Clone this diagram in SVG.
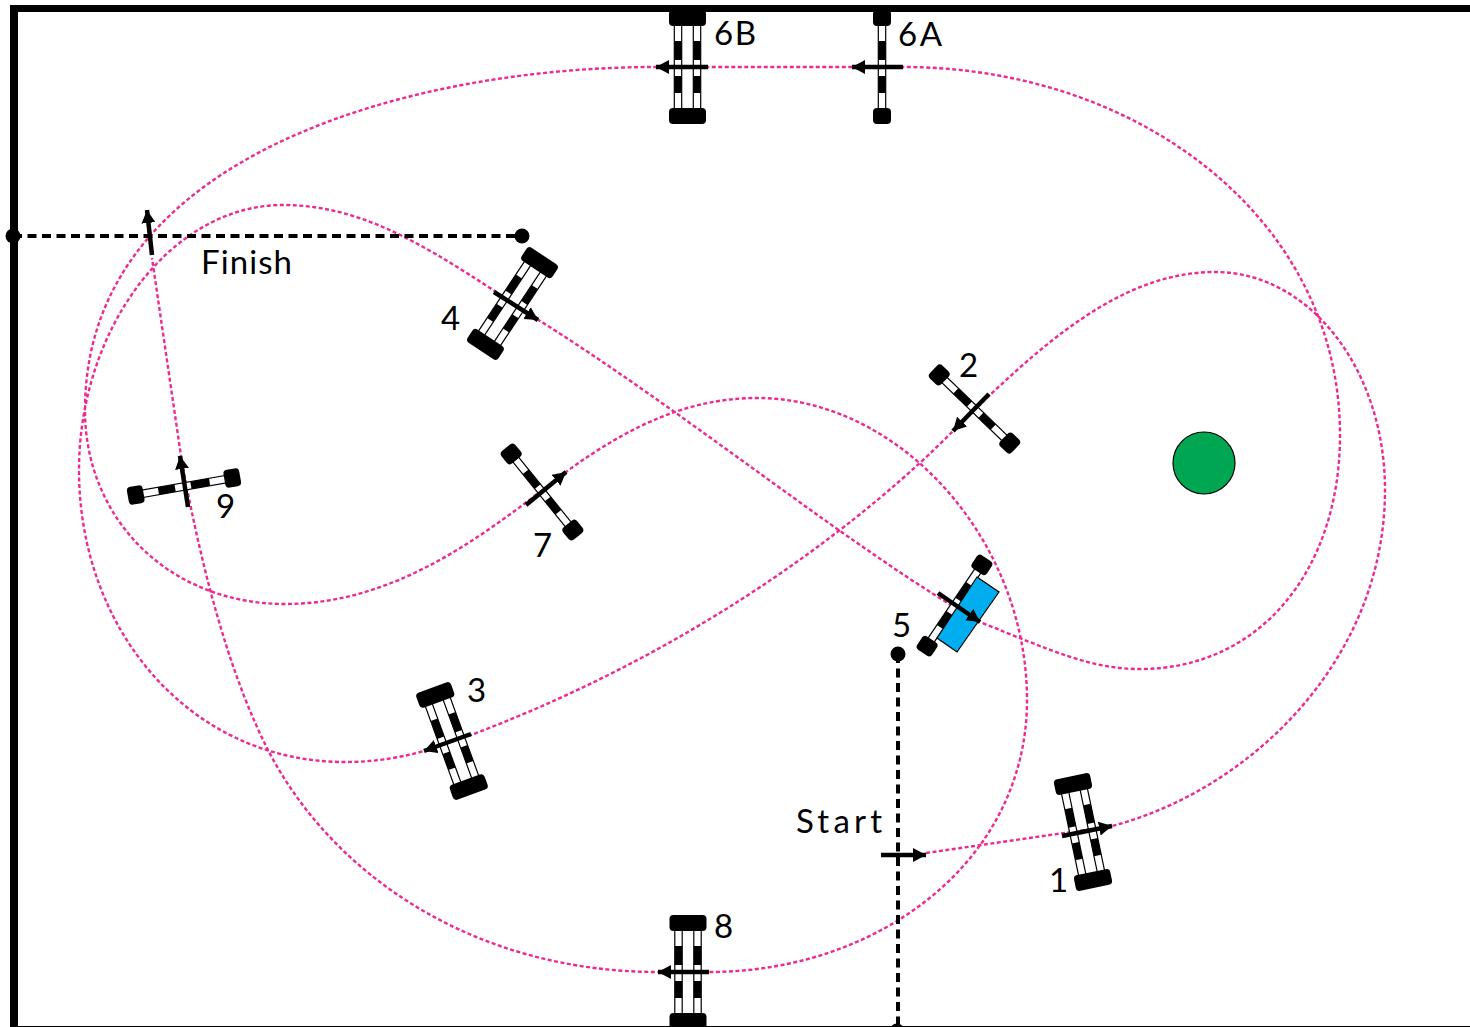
<svg xmlns="http://www.w3.org/2000/svg" width="1470" height="1027" viewBox="0 0 1470 1027">
<style>
.pink{fill:none;stroke:#ec2a90;stroke-width:2.4;stroke-dasharray:4 2.5}
.bdash{fill:none;stroke:#000;stroke-width:4;stroke-dasharray:9 5.5}
.arrow{stroke:#000;stroke-width:4.5;fill:none;marker-end:url(#ah)}
.wall{fill:#000}
text{font-family:"Lato","Open Sans",sans-serif;font-size:33px;fill:#000}
</style>
<defs>
<marker id="ah" markerUnits="userSpaceOnUse" markerWidth="16" markerHeight="16" refX="13" refY="7" orient="auto"><path d="M0 0L13 7L0 14Z" fill="#000"/></marker>
<g id="bar"><rect x="-3.7" y="-46" width="7.4" height="92" fill="#fff" stroke="#000" stroke-width="1.2"/><rect x="-3.7" y="-26" width="7.4" height="19" fill="#000"/><rect x="-3.7" y="9" width="7.4" height="17" fill="#000"/></g>
<g id="single"><use href="#bar"/><rect x="-9" y="-57" width="18" height="16" rx="4" fill="#000"/><rect x="-9" y="41" width="18" height="16" rx="4" fill="#000"/></g>
<g id="double"><use href="#bar" x="-9.5"/><use href="#bar" x="9.5"/><rect x="-18.5" y="-57" width="37" height="16" rx="4" fill="#000"/><rect x="-18.5" y="41" width="37" height="16" rx="4" fill="#000"/></g>
</defs>
<rect width="1470" height="1027" fill="#fff"/>
<g id="walls">
<rect class="wall" x="10" y="5" width="1460" height="7"/>
<rect class="wall" x="10" y="5" width="8" height="1022"/>
<rect class="wall" x="18" y="1026" width="1452" height="1"/>
</g>
<g id="connectors">
<path class="pink" d="M926 853L1112 826C1250 790 1385 660 1385 490C1385 370 1310 272 1215 272C1120 272 1040 345 953 431C875 510 710 645 471 735L424 751C395 759 370 762 345 762C190 762 79 630 79 470C79 330 170 205 283 205C370 205 440 255 537 319C690 415 860 555 980 622C1050 650 1090 669 1140 669C1260 669 1340 570 1340 435C1340 220 1140 67 903 67L656 67C420 67 85 150 85 410C85 520 170 604 285 604C400 604 490 530 566 472C630 425 690 398 757 398C900 398 1027 540 1027 700C1027 860 880 972 709 972L658 972C480 972 335 880 268 750C235 685 205 590 181 456L152 258"/>
<path class="bdash" d="M13 236H522"/>
<path class="bdash" d="M898 654V1027"/>
<circle cx="13" cy="236" r="7.5"/>
<circle cx="522" cy="236" r="7.5"/>
<circle cx="898" cy="654" r="7.5"/>
<circle cx="897" cy="1031" r="7.5"/>
</g>
<g id="obstacle"><circle cx="1204" cy="463" r="31" fill="#00a651" stroke="#000" stroke-width="1.2"/></g>
<g id="gate-6B"><use href="#double" transform="translate(687.5 67)"/><path class="arrow" d="M708 67H656"/><text x="714" y="45" textLength="42">6B</text></g>
<g id="gate-6A"><use href="#single" transform="translate(882 67)"/><path class="arrow" d="M903 67H852"/><text x="898" y="46" textLength="44">6A</text></g>
<g id="gate-4"><use href="#double" transform="translate(512.5 303.5) rotate(33.5)"/><path class="arrow" d="M494 292L538 320"/><text x="441" y="330">4</text></g>
<g id="gate-2"><use href="#single" transform="translate(974.5 409) rotate(-46)"/><path class="arrow" d="M989 394L953 431"/><text x="959" y="377">2</text></g>
<g id="gate-7"><use href="#single" transform="translate(542 492) rotate(-39)"/><path class="arrow" d="M526 505L566 472"/><text x="533" y="557">7</text></g>
<g id="gate-9"><use href="#single" transform="translate(184 486.5) rotate(80)"/><path class="arrow" d="M188 507L180 456"/><text x="216" y="518">9</text></g>
<g id="gate-5"><use href="#single" transform="translate(954.5 605.5) rotate(34)"/><polygon points="977,577 999,592 957,652 937,638" fill="#00aeef" stroke="#000" stroke-width="1.2"/><path class="arrow" d="M938 593L980 622"/><text x="892" y="637">5</text></g>
<g id="gate-3"><use href="#double" transform="translate(452 741) rotate(-20)"/><path class="arrow" d="M471 734L424 751"/><text x="467" y="702">3</text></g>
<g id="gate-1"><use href="#double" transform="translate(1083 832) rotate(-11.8)"/><path class="arrow" d="M1062 836L1112 826"/><text x="1049" y="892">1</text></g>
<g id="gate-8"><use href="#double" transform="translate(688 972)"/><path class="arrow" d="M709 972H658"/><text x="714" y="938">8</text></g>
<g id="start"><path class="arrow" d="M881 855H926"/><text x="796" y="833" textLength="86">Start</text></g>
<g id="finish"><path class="arrow" d="M152 255L147 210"/><text x="201" y="274" textLength="91">Finish</text></g>
</svg>
